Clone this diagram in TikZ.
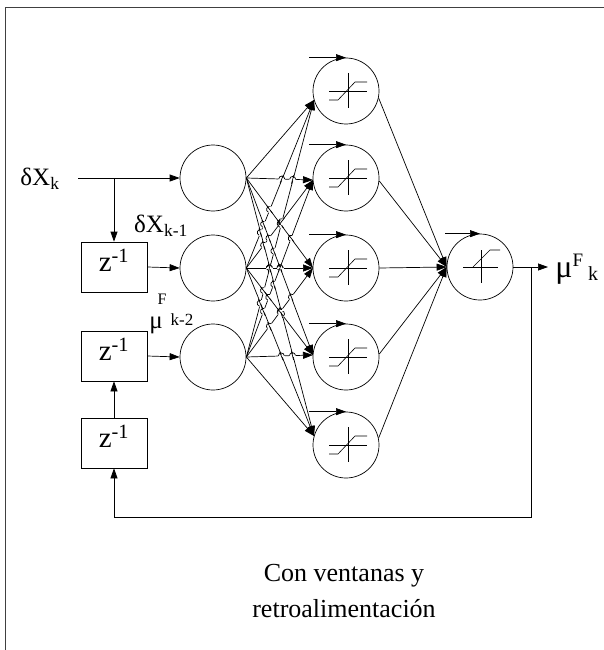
\documentclass[tikz,border=0pt]{standalone}
\usepackage{fontspec}
\setmainfont{Liberation Serif}
\usetikzlibrary{arrows.meta}
\begin{document}
\begin{tikzpicture}[x=1pt,y=-1pt,line width=0.7pt,
  neuron/.style={circle,draw,minimum size=66pt,inner sep=0pt},
  delaybox/.style={draw,minimum width=66pt,minimum height=50pt,inner sep=0pt,
     font=\fontsize{29}{30}\selectfont,text depth=14pt},
  conn/.style={-{Triangle[length=10pt,width=7pt]}},
  lbl/.style={inner sep=0pt,font=\fontsize{25}{28}\selectfont},
  satsym/.pic={
    \draw[line width=0.6pt] (2,-18) -- (2,17);
    \draw[line width=0.6pt] (-17,0) -- (21,0);
    \draw[line width=0.6pt] (-17,9) -- (-8,9) -- (9,-9) -- (21,-9);
  },
  outsym/.pic={
    \draw[line width=0.6pt] (1,-17) -- (1,16);
    \draw[line width=0.6pt] (-17,0) -- (18,0);
    \draw[line width=0.6pt] (-7,0) -- (10,-17) -- (20,-17);
  }]
\useasboundingbox (0,0) rectangle (604,650);
\fill[white] (0,0) rectangle (604,650);
% frame
\draw[black!75,line width=0.8pt] (5,650) -- (5,7) -- (604,7);

% input neurons
\node[neuron] (in1) at (213,178) {};
\node[neuron] (in2) at (213,268) {};
\node[neuron] (in3) at (213,357) {};
% hidden neurons
\node[neuron] (h1) at (346,91) {};
\node[neuron] (h2) at (346,178) {};
\node[neuron] (h3) at (346,268) {};
\node[neuron] (h4) at (346,357) {};
\node[neuron] (h5) at (346,445) {};
\foreach \j in {1,...,5} \pic at (h\j) {satsym};
% output neuron
\node[neuron] (out) at (480,267) {};
\pic at (out) {outsym};

% delay boxes
\node[delaybox] (b1) at (114,267) {z\textsuperscript{-1}};
\node[delaybox] (b2) at (114,356) {z\textsuperscript{-1}};
\node[delaybox] (b3) at (114,443) {z\textsuperscript{-1}};

% entry points of hidden neurons
\coordinate (e1) at (314,100);
\coordinate (e2) at (313,180);
\coordinate (e3) at (313,268);
\coordinate (e4) at (313,355);
\coordinate (e5) at (314,436);

% input -> hidden
\foreach \i in {1,2,3}
  \foreach \j in {1,...,5}
    \draw[conn] (in\i.east) -- (e\j);

% line hops
\foreach \ia/\ya in {1/178,2/268,3/357}{
 \foreach \ja/\ha in {1/100,2/180,3/268,4/355,5/436}{
  \foreach \ib/\yb in {1/178,2/268,3/357}{
   \foreach \jb/\hb in {1/100,2/180,3/268,4/355,5/436}{
    \pgfmathsetmacro\hopD{(\ha-\ya)-(\hb-\yb)}
    \ifdim\hopD pt=0pt\relax\else
      \pgfmathsetmacro\hopT{(\yb-\ya)/\hopD}
      \pgfmathtruncatemacro\hopOK{and(and(\hopT>0.03,\hopT<0.85),(\ib*10+\jb+100*(\jb==\ib+1))>(\ia*10+\ja+100*(\ja==\ia+1)))}
      \ifnum\hopOK=1
        \pgfmathsetmacro\hopX{246+67.5*\hopT}
        \pgfmathsetmacro\hopY{\ya+(\ha-\ya)*\hopT}
        \pgfmathsetmacro\angB{atan2(-(\hb-\yb),67.5)}
        \pgfmathsetmacro\angA{atan2(-(\ha-\ya),67.5)}
        \begin{scope}[shift={(\hopX,\hopY)},rotate=\angB]
          \draw[white,line width=2.6pt] (-3.4,0) -- (3.4,0);
        \end{scope}
        \begin{scope}[shift={(\hopX,\hopY)},rotate=\angA]
          \draw (-4.5,0) -- (4.5,0);
        \end{scope}
        \begin{scope}[shift={(\hopX,\hopY)},rotate=\angB]
          \draw (-3,0) arc[start angle=180,end angle=360,radius=3];
        \end{scope}
      \fi
    \fi
   }}}}

% hidden -> output
\foreach \j/\a in {1/348,2/355,3/0,4/5,5/12}
  \draw[conn] (h\j.\a) -- (out.west);

% bias arrows
\foreach \j in {1,...,5}{
  \coordinate (bias\j) at ([xshift=-37pt]h\j.north);
  \draw[conn] (bias\j) -- (h\j.north);
}
\coordinate (biaso) at ([xshift=-35pt]out.north);
\draw[conn] (biaso) -- (out.north);

% inputs
\node[lbl] (lx) at (40,179) {δX\textsubscript{k}};
\coordinate (xin) at (78,178);
\coordinate (br) at (114,178);
\draw[conn] (xin) -- (in1.west);
\draw[conn] (br) -- (b1.north);
\draw[conn] (b1.east) -- (in2.west);
\draw[conn] (b2.east) -- (in3.west);
\draw[conn] (b3.north) -- (b2.south);

% output
\coordinate (oend) at (548,267);
\coordinate (fb) at (531,267);
\coordinate (fbc) at (531,517);
\draw[conn] (out.east) -- (oend);
\draw[conn] (fb) -- (fbc) -| (b3.south);

% labels
\node[lbl] (lx1) at (161,226) {δX\textsubscript{k-1}};
\node[inner sep=0pt,font=\fontsize{16}{18}\selectfont] (lmf) at (162,299) {F};
\node[inner sep=0pt,font=\fontsize{25}{26}\selectfont] (lmu) at (156,325) {μ};
\node[inner sep=0pt,font=\fontsize{17}{18}\selectfont] (lk2) at (182,320) {k-2};

\node[inner sep=0pt,font=\fontsize{32}{34}\selectfont] (omu) at (564,274) {μ};
\node[inner sep=0pt,font=\fontsize{19}{20}\selectfont] (of) at (578,260) {F};
\node[inner sep=0pt,font=\fontsize{20}{21}\selectfont] (ok) at (593,274) {k};

\node[align=center,font=\fontsize{26}{36}\selectfont] (cap) at (344,591)
  {Con ventanas y\\retroalimentación};
\end{tikzpicture}
\end{document}
